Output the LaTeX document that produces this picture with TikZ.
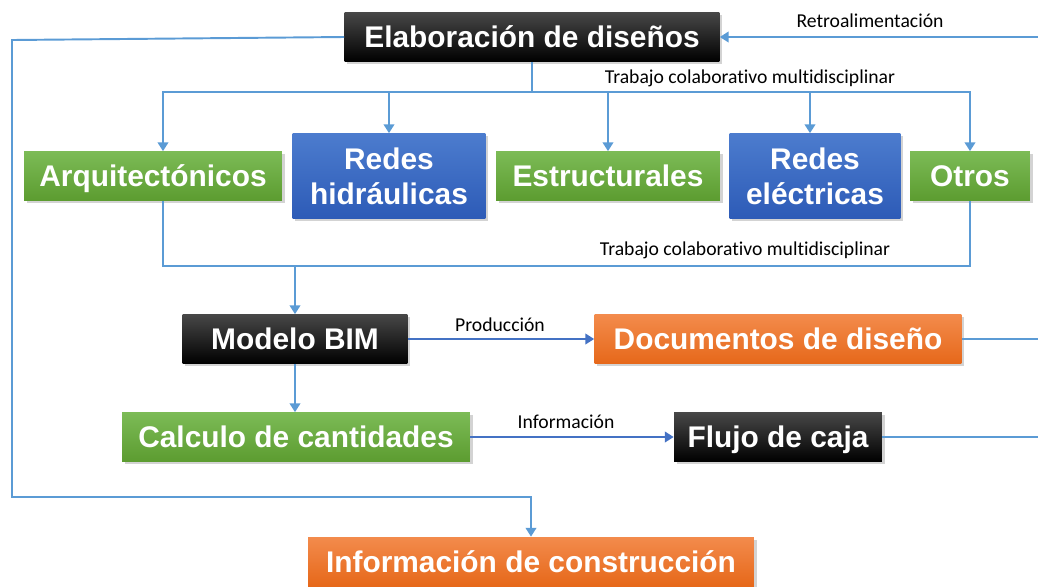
\documentclass[tikz,border=0pt]{standalone}
\usepackage{fontspec}
\setmainfont{Liberation Sans}
\newfontfamily\etiq[Ligatures=NoCommon]{Carlito}
\usetikzlibrary{arrows.meta, positioning, shadows}
\definecolor{linea}{HTML}{5B9BD5}
\definecolor{lineaosc}{HTML}{4472C4}
\tikzset{
    caja/.style = {rectangle, inner sep=0pt, text centered, align=center, text=white,
        font=\fontsize{17}{19.8}\selectfont\bfseries, minimum height=0.98cm,
        drop shadow={opacity=0.35, shadow xshift=1.5pt, shadow yshift=-1.5pt}},
    linea1/.style = {text height=12.2pt, text depth=0pt},
    verde/.style = {caja, linea1, top color={rgb,255:red,124;green,187;blue,86}, bottom color={rgb,255:red,92;green,156;blue,48}},
    azul/.style = {caja, minimum height=1.7cm, top color={rgb,255:red,76;green,124;blue,206}, bottom color={rgb,255:red,45;green,91;blue,183}},
    negra/.style = {caja, linea1, top color=black!72, middle color=black, bottom color=black},
    naranja/.style = {caja, linea1, top color={rgb,255:red,243;green,139;blue,76}, bottom color={rgb,255:red,230;green,104;blue,26}},
    etiqueta/.style = {font=\etiq\fontsize{11.2}{13}\selectfont, inner sep=1pt},
    linea/.style = {line width=1.1pt, draw=linea},
    flecha/.style = {linea, -{Triangle[width=6pt,length=5pt]}},
    flechaosc/.style = {line width=1.1pt, draw=lineaosc, -{Triangle[width=6pt,length=5pt]}, fill=lineaosc}
}

\begin{document}
\begin{tikzpicture}[x=0.02cm, y=-0.02cm]
    \useasboundingbox (0,0) rectangle (1038,586);
    % Nodos
    \node (elab) [negra, minimum width=7.5cm] at (532,37) {Elaboración de diseños};
    \node (arq) [verde, minimum width=5.16cm] at (153,176) {Arquitectónicos};
    \node (hidr) [azul, minimum width=3.86cm] at (389,176) {Redes\\hidráulicas};
    \node (estr) [verde, minimum width=4.48cm] at (608,176) {Estructurales};
    \node (elec) [azul, minimum width=3.42cm] at (815,176) {Redes\\eléctricas};
    \node (otros) [verde, minimum width=2.4cm] at (970,176) {Otros};
    \node (bim) [negra, minimum width=4.5cm] at (295,339) {Modelo BIM};
    \node (docs) [naranja, minimum width=7.34cm] at (778,339) {Documentos de diseño};
    \node (calc) [verde, minimum width=6.96cm] at (296,437) {Calculo de cantidades};
    \node (flujo) [negra, minimum width=4.16cm] at (778,437) {Flujo de caja};
    \node (info) [naranja, minimum width=8.92cm] at (531,561.5) {Información de construcción};

    % Puntos de paso
    \coordinate (busT) at (532,92);
    \coordinate (busB) at (295,266);
    \coordinate (izqA) at (12,40);
    \coordinate (izqB) at (12,497);
    \coordinate (bordeR) at (1038,37);
    \coordinate (bordeD) at (1038,339);
    \coordinate (bordeF) at (1038,437);

    % Etiquetas
    \node (e1) [etiqueta] at (870,21) {Retroalimentación};
    \node (e2) [etiqueta] at (750,78) {Trabajo colaborativo multidisciplinar};
    \node (e3) [etiqueta] at (745,250) {Trabajo colaborativo multidisciplinar};
    \node (e4) [etiqueta] at (500,325) {Producción};
    \node (e5) [etiqueta] at (566,422) {Información};

    % Flechas
    \draw [linea] (elab.south) -- (busT);
    \draw [flecha] (busT) -| ([xshift=0.2cm]arq.north);
    \draw [flecha] (busT) -| (hidr.north);
    \draw [flecha] (busT) -| (estr.north);
    \draw [flecha] (busT) -| ([xshift=-0.1cm]elec.north);
    \draw [flecha] (busT) -| (otros.north);
    \draw [linea] ([xshift=0.2cm]arq.south) |- (busB) -| (otros.south);
    \draw [flecha] (busB) -- (bim.north);
    \draw [flechaosc] (bim.east) -- (docs.west);
    \draw [flecha] (bim.south) -- (bim.south |- calc.north);
    \draw [flechaosc] (calc.east) -- (flujo.west);
    \draw [linea] (docs.east) -- (bordeD);
    \draw [linea] (flujo.east) -- (bordeF);
    \draw [flecha] (bordeR) -- (elab.east);
    \draw [flecha] (elab.west) -- (izqA) -- (izqB) -| (info.north);
\end{tikzpicture}
\end{document}
